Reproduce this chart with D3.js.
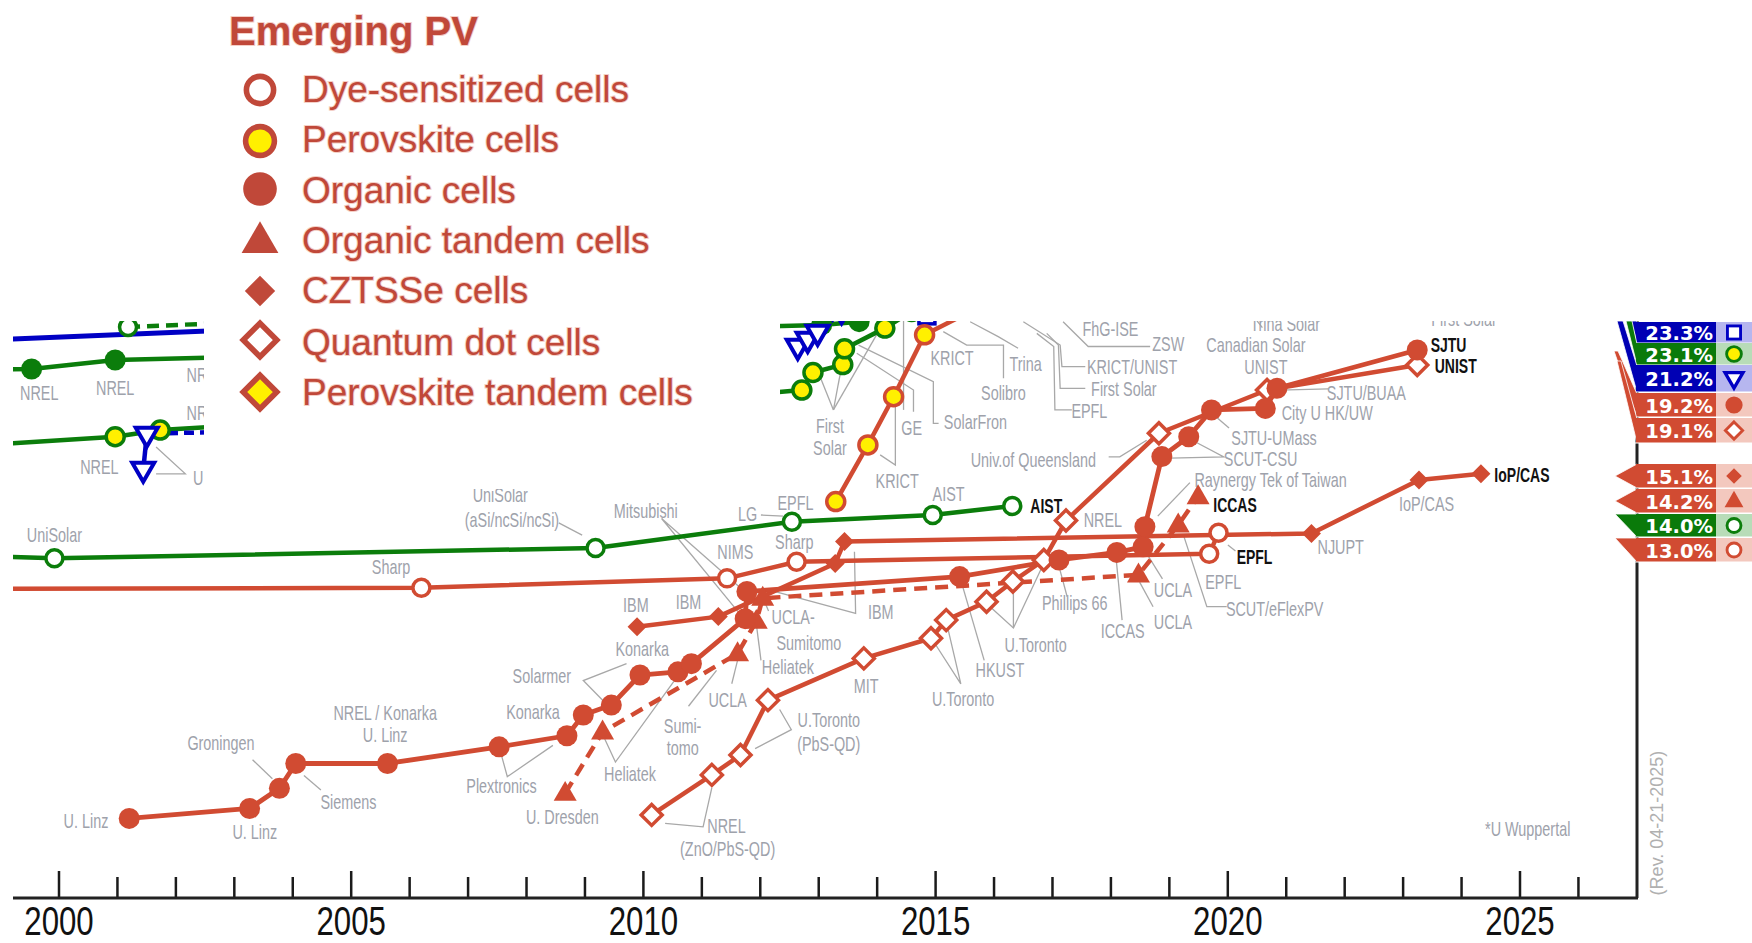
<!DOCTYPE html>
<html>
<head>
<meta charset="utf-8">
<title>Emerging PV</title>
<script src="https://cdn.jsdelivr.net/npm/d3@7/dist/d3.min.js"></script>
<style>
html,body{margin:0;padding:0;background:#fff;overflow:hidden;}
svg{display:block;}
</style>
</head>
<body>
<svg id="chart" width="1752" height="943"></svg>
<script>
// ================= DATA (year, efficiency %) =================
const years = d3.range(2000, 2027);
const yearLabels = [2000, 2005, 2010, 2015, 2020, 2025];

const organic = [[2001.21,3.24],[2003.27,3.58],[2003.78,4.27],[2004.06,5.12],[2005.63,5.12],[2007.54,5.69],[2008.70,6.07],[2008.98,6.78],[2009.46,7.12],[2009.95,8.15],[2010.60,8.26],[2010.83,8.54],[2011.75,10.08],[2011.78,11.01],[2015.42,11.52],[2017.12,12.09],[2018.11,12.35],[2018.56,12.54],[2018.59,13.23],[2018.88,15.63],[2019.34,16.31],[2019.73,17.23],[2020.65,17.28],[2020.85,17.97],[2023.25,19.28]];
const organicTandem = [[2008.67,4.10],[2009.31,6.20],[2011.62,8.88],[2011.94,9.99],[2012.05,10.78],[2018.48,11.58],[2019.16,13.29],[2019.50,14.26]];
const cztsse = [[2009.90,9.80],[2011.29,10.15],[2013.29,11.97],[2013.45,12.72],[2021.44,13.00],[2023.28,14.83],[2024.34,15.04]];
const dyeSensitized = [[1999.00,11.10],[2006.21,11.14],[2011.44,11.46],[2012.63,12.03],[2019.69,12.30],[2019.85,13.02]];
const quantumDot = [[2010.15,3.36],[2011.18,4.73],[2011.67,5.41],[2012.14,7.29],[2013.78,8.72],[2014.93,9.41],[2015.19,10.03],[2015.88,10.66],[2016.33,11.35],[2016.86,12.09],[2017.24,13.44],[2018.83,16.43],[2020.68,17.91],[2023.25,18.77]];
const perovskite = [[2013.30,14.09],[2013.85,16.03],[2014.29,17.68],[2014.82,19.80],[2015.90,20.90]];
const aSi = [[1999.00,12.21],[1999.93,12.15],[2009.19,12.50],[2012.55,13.40],[2014.96,13.63],[2016.32,13.94]];
// fragments of other technologies visible behind the legend
const blueTop = [[1998.50,19.60],[2004.00,20.05]];
const greenDashed = [[2001.19,20.07],[2004.00,20.30]];
const cigs = [[1998.50,18.60],[1999.54,18.63],[2000.97,18.94],[2008.50,19.30],[2010.50,20.00],[2013.06,20.14],[2013.70,20.25],[2014.50,20.80]];
const cdte = [[1998.50,16.00],[2000.97,16.31],[2001.74,16.54],[2011.80,17.75],[2012.72,17.91],[2012.91,18.51],[2013.42,18.78],[2013.45,19.32],[2014.14,20.03],[2014.60,20.60]];
const blueDash = [[2001.60,16.42],[2003.50,16.50]];
const triLeft = [[2001.45,15.17],[2001.51,16.37]];
const triMid = [[2012.65,19.38],[2012.82,19.62],[2012.99,19.86],[2013.40,20.60]];
const blueSquare = [[2014.86,20.45]];

// labels: [text, year, efficiency, anchor]
const labels = [
 ["U. Linz",2000.47,3.14],["U. Linz",2003.36,2.76],["Groningen",2002.78,5.82],["Siemens",2004.96,3.79],
 ["NREL / Konarka",2005.59,6.85],["U. Linz",2005.59,6.09],["Plextronics",2007.58,4.33],["Konarka",2008.12,6.89],
 ["Solarmer",2008.27,8.12],["Konarka",2009.99,9.04],["IBM",2009.88,10.53],["IBM",2010.78,10.64],
 ["Heliatek",2009.78,4.75],["U. Dresden",2008.62,3.30],["Sumi-",2010.68,6.39],["tomo",2010.68,5.63],
 ["UCLA",2011.45,7.28],["Heliatek",2012.48,8.42],["Sumitomo",2012.84,9.23],["UCLA-",2012.57,10.15],
 ["IBM",2014.07,10.30],["NIMS",2011.58,12.36],["Sharp",2012.59,12.71],["EPFL",2012.61,14.05],
 ["LG",2011.79,13.67],["Mitsubishi",2010.05,13.78],["UniSolar",2007.56,14.32],["(aSi/ncSi/ncSi)",2007.76,13.47],
 ["UniSolar",1999.93,12.94],["Sharp",2005.69,11.83],["AIST",2015.23,14.36],["MIT",2013.82,7.77],
 ["U.Toronto",2013.18,6.59],["(PbS-QD)",2013.18,5.78],["NREL",2011.43,2.99],["(ZnO/PbS-QD)",2011.45,2.19],
 ["U.Toronto",2015.48,7.31],["HKUST",2016.11,8.31],["U.Toronto",2016.72,9.19],["Phillips 66",2017.39,10.60],
 ["ICCAS",2018.21,9.65],["UCLA",2019.07,11.06],["UCLA",2019.07,9.95],["EPFL",2019.93,11.33],
 ["SCUT/eFlexPV",2020.81,10.41],["NJUPT",2021.94,12.52],["IoP/CAS",2023.41,14.01],
 ["Raynergy Tek of Taiwan",2020.74,14.81],["NREL",2017.87,13.44],["Univ.of Queensland",2016.68,15.50],
 ["SCUT-CSU",2020.57,15.54],["SJTU-UMass",2020.80,16.27],["City U HK/UW",2021.71,17.11],["SJTU/BUAA",2022.38,17.80],
 ["UNIST",2020.66,18.68],["Canadian Solar",2020.49,19.45],["Trina Solar",2020.99,20.17],["First Solar",2024.05,20.33],
 ["FhG-ISE",2018.00,19.98],["ZSW",2018.99,19.48],["KRICT/UNIST",2018.37,18.68],["First Solar",2018.23,17.95],
 ["EPFL",2017.64,17.19],["Trina",2016.55,18.79],["Solibro",2016.17,17.80],["KRICT",2015.29,18.99],
 ["SolarFron",2015.69,16.80],["GE",2014.60,16.61],["KRICT",2014.35,14.78],["First",2013.20,16.69],["Solar",2013.20,15.92],
 ["NREL",1999.67,17.80],["NREL",2000.97,17.99],["NREL",2002.52,18.41],["NREL",2002.52,17.11],["NREL",2000.70,15.27],
 ["U.",2002.30,14.89,"s"],["*U Wuppertal",2025.14,2.87]
];
const boldLabels = [["AIST",2016.63,13.93],["ICCAS",2019.76,13.97],["EPFL",2020.16,12.20],["IoP/CAS",2024.57,15.00],["SJTU",2023.48,19.46],["UNIST",2023.55,18.74]];

// leader lines (year, efficiency)
const leaders = [
 [[2003.32,5.25],[2003.66,4.60]],[[2004.20,4.71],[2004.49,4.21]],
 [[2007.58,5.40],[2007.68,4.67],[2008.46,5.74]],[[2009.72,8.54],[2008.98,7.96],[2009.32,7.27]],
 [[2009.31,6.12],[2009.53,5.17],[2010.53,7.93]],[[2010.78,7.08],[2011.26,8.31]],[[2011.52,7.85],[2011.62,8.65]],
 [[2012.02,8.65],[2011.94,9.92]],[[2012.15,10.34],[2012.07,10.72]],
 [[2013.62,12.37],[2013.64,10.26],[2012.17,11.06]],[[2011.71,11.06],[2010.32,13.51],[2011.62,10.34]],
 [[2012.02,13.63],[2012.40,13.59]],[[2008.56,13.36],[2008.96,12.94]],
 [[2012.34,6.97],[2012.54,6.28],[2011.92,5.63]],[[2010.38,3.07],[2011.03,2.95],[2011.18,4.29]],
 [[2014.96,9.34],[2015.44,7.85],[2015.19,9.99]],[[2015.84,8.65],[2015.44,11.40]],
 [[2015.88,10.60],[2016.34,9.76],[2016.86,11.98]],[[2016.34,9.76],[2016.34,11.33]],
 [[2017.26,10.83],[2017.12,11.87]],[[2018.20,10.03],[2018.10,12.09]],[[2018.58,12.44],[2018.89,11.44]],
 [[2018.50,11.33],[2018.73,10.49]],[[2019.25,12.94],[2019.65,10.49],[2019.99,10.49]],[[2020.01,12.60],[2020.14,12.40]],
 [[2019.36,14.74],[2018.81,13.59]],[[2019.40,16.19],[2019.94,15.62],[2019.02,15.58]],[[2019.76,17.07],[2020.03,16.61]],
 [[2020.89,17.91],[2021.73,17.95]],[[2017.97,15.62],[2018.16,15.62],[2018.62,16.19]],
 [[2001.67,15.96],[2002.17,15.04],[2001.67,15.04]],
 [[2013.26,17.23],[2013.03,18.37]],[[2013.26,17.23],[2013.40,18.71]],[[2013.26,17.23],[2014.03,19.91]],
 [[2013.66,19.17],[2014.63,17.91],[2014.63,17.17]],[[2014.46,20.40],[2014.46,17.23]],
 [[2013.69,19.45],[2014.97,18.20],[2014.97,16.77],[2015.06,16.77]],[[2014.32,17.57],[2014.32,15.34],[2014.06,15.69]],
 [[2015.14,19.91],[2015.54,19.45],[2016.17,19.45],[2016.17,18.31]],[[2015.60,20.25],[2016.08,19.74],[2016.42,19.34]],
 [[2016.51,20.25],[2017.14,19.45],[2017.17,18.71],[2017.57,18.71]],[[2016.91,19.85],[2017.11,19.45],[2017.14,17.97],[2017.57,17.97]],
 [[2016.74,19.85],[2017.03,19.40],[2017.05,17.23],[2017.34,17.23]],[[2017.19,20.25],[2017.62,19.40],[2018.68,19.40]],
 [[2020.50,20.30],[2020.60,20.05]]
];

// right-hand record flags
const flagValues = ["23.3%","23.1%","21.2%","19.2%","19.1%","15.1%","14.2%","14.0%","13.0%"];
const flagFamilies = ["blue","green","blue","red","red","red","red","green","red"];
const flagIcons = ["square","yellowCircle","triDown","fillCircle","openDiamond","fillDiamond","fillTriangle","openCircle","openCircle"];

const legendTitle = "Emerging PV";
const legendNames = ["Dye-sensitized cells","Perovskite cells","Organic cells","Organic tandem cells","CZTSSe cells","Quantum dot cells","Perovskite tandem cells"];
const legendIcons = ["openCircle","yellowCircle","fillCircle","fillTriangle","fillDiamond","openDiamond","yellowDiamond"];

// ================= STYLE / LAYOUT =================
const RED = "#d14b32", GREEN = "#0b7d0b", BLUE = "#0000c4", YEL = "#fff000", GRAY = "#9ea2ab";
const LEG = "#c04839";
const SANS = "'Liberation Sans',Arial,sans-serif";
const famColor = {blue: "#0000b4", green: "#0a7a0a", red: RED};
const famTint = {blue: "#b6b6ef", green: "#b8dcb8", red: "#f3c8be"};
const iconColor = {square: BLUE, yellowCircle: GREEN, triDown: BLUE};

const svg = d3.select("#chart");
const x = d3.scaleLinear().domain([2000, 2025]).range([58.5, 1519.5]);
const y = d3.scaleLinear().domain([0, 20]).range([913, 329]);
const line = d3.line().x(d => x(d[0])).y(d => y(d[1]));

svg.append("rect").attr("width", 1752).attr("height", 943).attr("fill", "#fff");
svg.append("defs").append("clipPath").attr("id", "plotClip")
  .append("rect").attr("x", 13).attr("y", 321).attr("width", 1624).attr("height", 577);

function diamond(cx, cy, r) { return `M${cx},${cy - r}L${cx + r},${cy}L${cx},${cy + r}L${cx - r},${cy}Z`; }
function triUp(cx, cy, s) { const h = s * 0.866; return `M${cx},${cy - h * 0.62}L${cx + s / 2},${cy + h * 0.38}L${cx - s / 2},${cy + h * 0.38}Z`; }
function triDn(cx, cy, s) { const h = s * 0.866; return `M${cx},${cy + h * 0.62}L${cx + s / 2},${cy - h * 0.38}L${cx - s / 2},${cy - h * 0.38}Z`; }

function marker(g, type, cx, cy, s, color) {
  switch (type) {
    case "openCircle": g.append("circle").attr("cx", cx).attr("cy", cy).attr("r", 8.5 * s).attr("fill", "#fff").attr("stroke", color).attr("stroke-width", 3.5 * s); break;
    case "fillCircle": g.append("circle").attr("cx", cx).attr("cy", cy).attr("r", 10.5 * s).attr("fill", color); break;
    case "yellowCircle": g.append("circle").attr("cx", cx).attr("cy", cy).attr("r", 9 * s).attr("fill", YEL).attr("stroke", color).attr("stroke-width", 3.5 * s); break;
    case "fillDiamond": g.append("path").attr("d", diamond(cx, cy, 9.5 * s)).attr("fill", color); break;
    case "openDiamond": g.append("path").attr("d", diamond(cx, cy, 10.5 * s)).attr("fill", "#fff").attr("stroke", color).attr("stroke-width", 3.5 * s); break;
    case "yellowDiamond": g.append("path").attr("d", diamond(cx, cy, 10.5 * s)).attr("fill", YEL).attr("stroke", color).attr("stroke-width", 3.5 * s); break;
    case "fillTriangle": g.append("path").attr("d", triUp(cx, cy, 23 * s)).attr("fill", color); break;
    case "triDown": g.append("path").attr("d", triDn(cx, cy, 22 * s)).attr("fill", "#fff").attr("stroke", color).attr("stroke-width", 4 * s).attr("stroke-linejoin", "miter"); break;
    case "square": g.append("rect").attr("x", cx - 8 * s).attr("y", cy - 8 * s).attr("width", 16 * s).attr("height", 16 * s).attr("fill", "#fff").attr("stroke", color).attr("stroke-width", 3.5 * s); break;
  }
}

// ================= PLOT =================
const plot = svg.append("g").attr("clip-path", "url(#plotClip)");

plot.append("g").selectAll("path").data(leaders).join("path")
  .attr("d", line).attr("fill", "none").attr("stroke", "#a8a8a8").attr("stroke-width", 1.3);

const series = [
  {data: blueTop, color: BLUE, w: 5, m: null},
  {data: greenDashed, color: GREEN, w: 4.5, dash: "12,7", m: "openCircle"},
  {data: cigs, color: GREEN, w: 4.5, m: "fillCircle"},
  {data: cdte, color: GREEN, w: 4.5, m: "yellowCircle"},
  {data: blueDash, color: BLUE, w: 4.5, dash: "10,6", m: null},
  {data: triLeft, color: BLUE, w: 4.5, m: "triDown"},
  {data: triMid, color: BLUE, w: 4.5, m: "triDown"},
  {data: blueSquare, color: BLUE, w: 4, m: "square"},
  {data: aSi, color: GREEN, w: 4.5, m: "openCircle"},
  {data: dyeSensitized, color: RED, w: 4.5, m: "openCircle"},
  {data: cztsse, color: RED, w: 4.5, m: "fillDiamond"},
  {data: quantumDot, color: RED, w: 4.5, m: "openDiamond"},
  {data: organicTandem, color: RED, w: 4.5, dash: "13,8", m: "fillTriangle"},
  {data: organic, color: RED, w: 4.8, m: "fillCircle"},
  {data: perovskite, color: RED, w: 4.5, m: "yellowCircle"}
];

const linesG = plot.append("g");
series.forEach(s => {
  linesG.append("path").datum(s.data).attr("d", line).attr("fill", "none")
    .attr("stroke", s.color).attr("stroke-width", s.w).attr("stroke-linejoin", "round")
    .attr("stroke-dasharray", s.dash || null);
});
const markG = plot.append("g");
series.forEach(s => {
  if (!s.m) return;
  s.data.forEach(d => marker(markG, s.m, x(d[0]), y(d[1]), 1, s.color));
});

const labG = plot.append("g").attr("font-family", SANS).attr("font-size", 20).attr("fill", GRAY);
labels.forEach(([t, yr, ef, a]) => {
  labG.append("text").attr("transform", `translate(${x(yr)},${y(ef)}) scale(0.72,1)`)
    .attr("text-anchor", a === "s" ? "start" : "middle").attr("dominant-baseline", "central").text(t);
});
const boldG = plot.append("g").attr("font-family", SANS).attr("font-size", 20).attr("font-weight", "bold").attr("fill", "#111");
boldLabels.forEach(([t, yr, ef]) => {
  boldG.append("text").attr("transform", `translate(${x(yr)},${y(ef)}) scale(0.7,1)`)
    .attr("dominant-baseline", "central").text(t);
});

// legend cover
svg.append("rect").attr("x", 204).attr("y", 0).attr("width", 576).attr("height", 489).attr("fill", "#fff");

// ================= AXIS =================
const axisG = svg.append("g").attr("transform", "translate(0,898)");
axisG.append("g").call(d3.axisBottom(x).tickValues(years.filter(d => d % 5)).tickSize(-21).tickFormat(""));
axisG.append("g").call(d3.axisBottom(x).tickValues(yearLabels).tickSize(-27).tickPadding(9).tickFormat(d3.format("d")));
axisG.selectAll(".domain").remove();
axisG.selectAll(".tick line").attr("stroke", "#1b1b1b").attr("stroke-width", 2.5);
axisG.selectAll(".tick text").attr("font-family", SANS).attr("font-size", 40).attr("fill", "#111")
  .attr("transform", "scale(0.78,1)");
axisG.append("line").attr("x1", 13).attr("x2", 1638).attr("y1", 0).attr("y2", 0).attr("stroke", "#222").attr("stroke-width", 3);
svg.append("line").attr("x1", 1637).attr("x2", 1637).attr("y1", 321).attr("y2", 898).attr("stroke", "#222").attr("stroke-width", 3);

svg.append("text").attr("transform", "translate(1657,823) rotate(-90)").attr("text-anchor", "middle")
  .attr("dominant-baseline", "central").attr("font-family", SANS)
  .attr("font-size", 18).attr("fill", "#b0b0b0").text("(Rev. 04-21-2025)");

// ================= RIGHT FLAGS =================
const flagRows = [[322,343],[343,365],[365,392],[393,417],[418,443],[464,488],[489,513],[514,537],[538,562]];
const flagTails = [
  [[1631,321],[1637,321],[1637,343]],
  [[1626,321],[1632,321],[1637,344],[1637,365]],
  [[1617,321],[1623,321],[1637,366],[1637,392]],
  [[1614,351],[1618,351],[1637,394],[1637,417]],
  [[1617,361],[1621,361],[1637,419],[1637,443]],
  [[1615,476],[1637,464],[1637,488]],
  [[1615,501],[1637,489],[1637,513]],
  [[1615,514],[1637,514],[1637,537]],
  [[1615,538],[1637,538],[1637,562]]
];
const flagG = svg.append("g");
flagValues.forEach((v, i) => {
  const [t, b] = flagRows[i], col = famColor[flagFamilies[i]];
  flagG.append("path").attr("d", "M" + flagTails[i].join("L") + "Z").attr("fill", col).attr("stroke", "#fff").attr("stroke-width", 0.8);
  flagG.append("rect").attr("x", 1636).attr("y", t).attr("width", 80).attr("height", b - t).attr("fill", col);
  flagG.append("rect").attr("x", 1716).attr("y", t).attr("width", 36).attr("height", b - t).attr("fill", famTint[flagFamilies[i]]);
  flagG.append("line").attr("x1", 1610).attr("x2", 1752).attr("y1", b).attr("y2", b).attr("stroke", "#fff").attr("stroke-width", 1);
  flagG.append("text").attr("x", 1713).attr("y", (t + b) / 2 + 1).attr("text-anchor", "end").attr("dominant-baseline", "central")
    .attr("font-family", "'DejaVu Sans',sans-serif").attr("font-weight", "bold").attr("font-size", 19.5).attr("fill", "#fff").text(v);
  const ic = flagIcons[i];
  const icCol = iconColor[ic] || (flagFamilies[i] === "green" ? GREEN : RED);
  marker(flagG, ic, 1734, (t + b) / 2, 0.82, icCol);
});

// ================= LEGEND =================
const legG = svg.append("g");
legG.append("text").attr("x", 229).attr("y", 45).attr("font-family", SANS)
  .attr("font-weight", "bold").attr("font-size", 40).attr("fill", LEG)
  .attr("stroke", "#f4cfc6").attr("stroke-width", 2).attr("paint-order", "stroke").text(legendTitle);
const legCy = [90, 141, 189, 241, 291, 340, 392];
const legBase = [102, 152, 203, 253, 303, 355, 405];
legendNames.forEach((n, i) => {
  marker(legG, legendIcons[i], 260, legCy[i], 1.6, LEG);
  legG.append("text").attr("x", 302).attr("y", legBase[i]).attr("font-family", SANS)
    .attr("font-size", 37).attr("fill", LEG).attr("stroke", "#f4cfc6").attr("stroke-width", 2).attr("paint-order", "stroke").text(n);
});
</script>
</body>
</html>
